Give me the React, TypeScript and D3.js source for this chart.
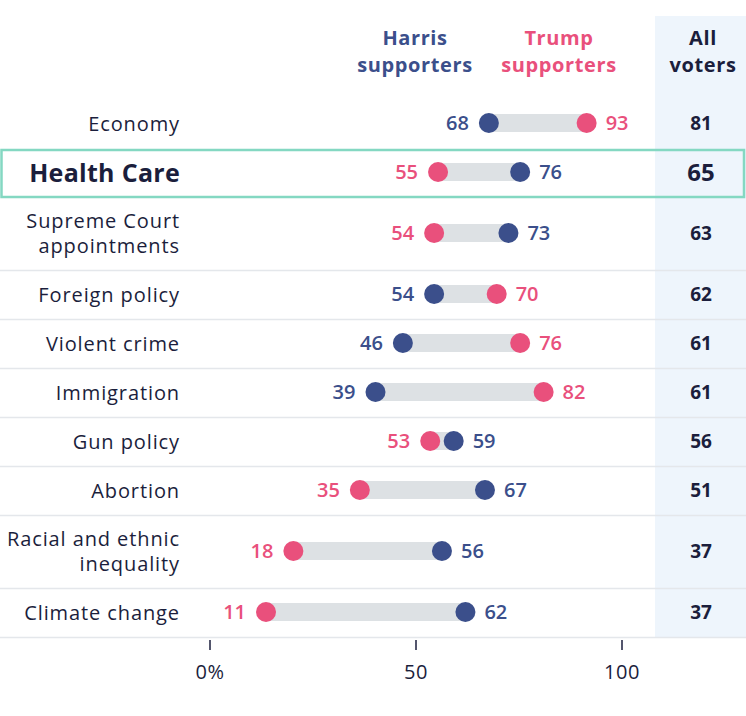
import React from "react";
import * as d3 from "d3";

const categories = [
  "Economy",
  "Health Care",
  "Supreme Court appointments",
  "Foreign policy",
  "Violent crime",
  "Immigration",
  "Gun policy",
  "Abortion",
  "Racial and ethnic inequality",
  "Climate change",
];
const categoryLines = [
  ["Economy"],
  ["Health Care"],
  ["Supreme Court", "appointments"],
  ["Foreign policy"],
  ["Violent crime"],
  ["Immigration"],
  ["Gun policy"],
  ["Abortion"],
  ["Racial and ethnic", "inequality"],
  ["Climate change"],
];
const harris = [68, 76, 73, 54, 46, 39, 59, 67, 56, 62];
const trump = [93, 55, 54, 70, 76, 82, 53, 35, 18, 11];
const allVoters = [81, 65, 63, 62, 61, 61, 56, 51, 37, 37];
const highlighted = "Health Care";
const axisTicks = [0, 50, 100];
const axisTickLabels = ["0%", "50", "100"];

const W = 746;
const H = 716;
const HARRIS = "#3b4f8b";
const TRUMP = "#e9507c";
const DARK = "#1b1e3c";
const BAR = "#dde1e4";
const FONT = "'Open Sans', 'Noto Sans', sans-serif";

export default function App() {
  // horizontal scales
  const xDot = d3.scaleLinear().domain([0, 100]).range([223, 614]);
  const xAxis = d3.scaleLinear().domain([0, 100]).range([210, 622]);

  // vertical layout: rows with one-line labels vs two-line labels
  const single = 49;
  const double = 73;
  const top = 100;
  const heights = categoryLines.map((l) => (l.length > 1 ? double : single));
  const bounds: number[] = [top];
  heights.forEach((h, i) => bounds.push(bounds[i] + h));
  const bottom = bounds[bounds.length - 1];

  const rows = categories.map((c, i) => {
    const y0 = bounds[i];
    const y1 = bounds[i + 1];
    const cy = (y0 + y1) / 2;
    return { c, i, y0, y1, cy };
  });

  return (
    <svg
      width={W}
      height={H}
      style={{ position: "absolute", left: 0, top: 0, background: "#fff" }}
      fontFamily={FONT}
    >
      {/* All voters column background */}
      <rect x={655} y={16} width={W - 655} height={bottom - 1 - 16} fill="#eef5fc" />

      {/* headers */}
      <g fontSize={20} fontWeight={700} textAnchor="middle" letterSpacing={0.6}>
        <text x={415} y={45} fill={HARRIS}>Harris</text>
        <text x={415} y={72} fill={HARRIS}>supporters</text>
        <text x={559} y={45} fill={TRUMP}>Trump</text>
        <text x={559} y={72} fill={TRUMP}>supporters</text>
        <text x={703} y={45} fill={DARK}>All</text>
        <text x={703} y={72} fill={DARK}>voters</text>
      </g>

      {/* row separators */}
      {rows.map((r) =>
        r.i >= 2 ? (
          <line key={"sep" + r.i} x1={0} x2={W} y1={r.y1 - 0.5} y2={r.y1 - 0.5} stroke="#e4e7eb" strokeWidth={1.5} />
        ) : null
      )}

      {rows.map((r) => {
        const hv = harris[r.i];
        const tv = trump[r.i];
        const lo = Math.min(hv, tv);
        const hi = Math.max(hv, tv);
        const dy = r.cy - 1.5;
        const isHL = r.c === highlighted;
        const lines = categoryLines[r.i];
        const marks = [
          { v: hv, color: HARRIS },
          { v: tv, color: TRUMP },
        ];
        return (
          <g key={r.c}>
            {/* category label */}
            <text
              textAnchor="end"
              fill={DARK}
              fontSize={isHL ? 25 : 20}
              fontWeight={isHL ? 700 : 400}
              letterSpacing={isHL ? 0.3 : 0.9}
            >
              {lines.map((l, k) => (
                <tspan
                  key={k}
                  x={180}
                  y={r.cy - 1 + (k - (lines.length - 1) / 2) * 25}
                  dy="0.36em"
                >
                  {l}
                </tspan>
              ))}
            </text>

            {/* range bar */}
            <rect
              x={xDot(lo)}
              y={dy - 9}
              width={xDot(hi) - xDot(lo)}
              height={18}
              fill={BAR}
            />
            {marks.map((m, k) => (
              <circle key={k} cx={xDot(m.v)} cy={dy} r={10} fill={m.color} />
            ))}
            {marks.map((m, k) => {
              const isLow = m.v === lo && !(hv === tv && k === 1);
              return (
                <text
                  key={"t" + k}
                  x={isLow ? xDot(m.v) - 20 : xDot(m.v) + 19}
                  y={dy}
                  dy="0.36em"
                  textAnchor={isLow ? "end" : "start"}
                  fill={m.color}
                  fontSize={20}
                  fontWeight={600}
                >
                  {m.v}
                </text>
              );
            })}

            {/* all voters */}
            <text
              x={701}
              y={dy + 0.5}
              dy="0.36em"
              textAnchor="middle"
              fill={DARK}
              fontSize={isHL ? 24 : 19}
              fontWeight={700}
            >
              {allVoters[r.i]}
            </text>

            {isHL ? (
              <rect
                x={1.5}
                y={r.y0 + 1}
                width={W - 3.5}
                height={r.y1 - r.y0 - 2}
                fill="none"
                stroke="#84d8c2"
                strokeWidth={2.5}
              />
            ) : null}
          </g>
        );
      })}

      {/* axis */}
      <g>
        {axisTicks.map((t, i) => (
          <g key={t}>
            <line x1={xAxis(t)} x2={xAxis(t)} y1={bottom + 2} y2={bottom + 12} stroke={DARK} strokeWidth={1.5} />
            <text x={xAxis(t)} y={679} textAnchor="middle" fill={DARK} fontSize={20} letterSpacing={0.5}>
              {axisTickLabels[i]}
            </text>
          </g>
        ))}
      </g>
    </svg>
  );
}
